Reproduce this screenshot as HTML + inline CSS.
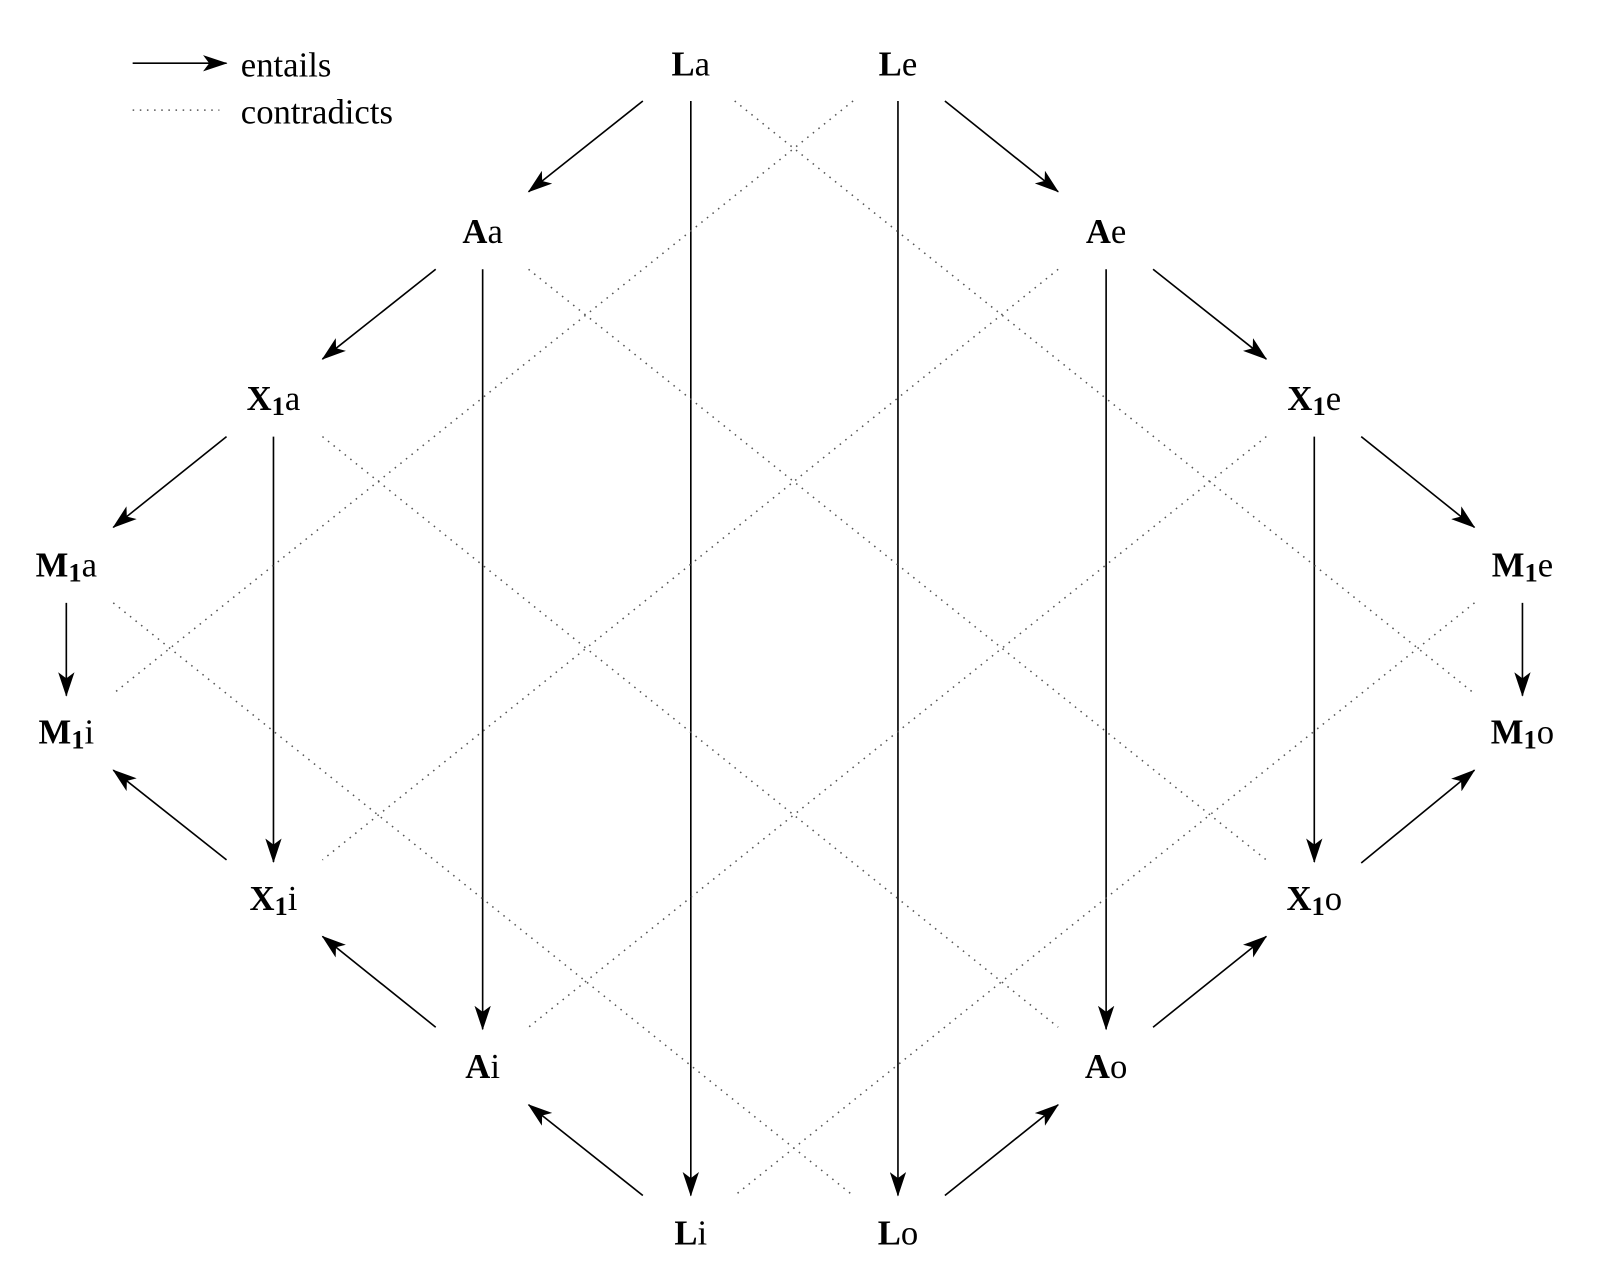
<!DOCTYPE html>
<html><head><meta charset="utf-8">
<style>
html,body{margin:0;padding:0;background:#fff;}
svg{display:block;}
svg text{font-family:"Liberation Serif","Times New Roman",Times,"DejaVu Serif",serif;font-size:34px;fill:#000;}
</style></head>
<body>
<svg width="1600" height="1271" viewBox="0 0 1568 1246" preserveAspectRatio="none" xmlns="http://www.w3.org/2000/svg">
<defs>
<marker id="ah" viewBox="0 0 24 16" refX="23" refY="8" markerWidth="24" markerHeight="16" markerUnits="userSpaceOnUse" orient="auto">
<path d="M0,0 L24,8 L0,16 L6,8 Z" fill="#000"/>
</marker>
</defs>
<g stroke="#000" stroke-width="1.6" fill="none" marker-end="url(#ah)">
<line x1="130" y1="62" x2="222" y2="62"/>
<line x1="630" y1="99" x2="518" y2="188"/>
<line x1="427" y1="264" x2="316" y2="352"/>
<line x1="222" y1="428" x2="111" y2="517"/>
<line x1="65" y1="591" x2="65" y2="682"/>
<line x1="222" y1="843" x2="111" y2="755"/>
<line x1="427" y1="1007" x2="316" y2="918"/>
<line x1="630" y1="1172" x2="518" y2="1083"/>
<line x1="677" y1="99" x2="677" y2="1172"/>
<line x1="473" y1="264" x2="473" y2="1009"/>
<line x1="268" y1="428" x2="268" y2="845"/>
<line x1="926" y1="99" x2="1037" y2="188"/>
<line x1="1130" y1="264" x2="1241" y2="352"/>
<line x1="1334" y1="428" x2="1445" y2="517"/>
<line x1="1492" y1="591" x2="1492" y2="682"/>
<line x1="1334" y1="846" x2="1445" y2="755"/>
<line x1="1130" y1="1007" x2="1241" y2="918"/>
<line x1="926" y1="1172" x2="1037" y2="1083"/>
<line x1="880" y1="99" x2="880" y2="1172"/>
<line x1="1084" y1="264" x2="1084" y2="1009"/>
<line x1="1288" y1="428" x2="1288" y2="845"/>
</g>
<g stroke="#555" stroke-width="1.5" fill="none" stroke-dasharray="1.5 5.5">
<line x1="130" y1="108" x2="215" y2="108"/>
<line x1="720" y1="99" x2="1445" y2="680"/>
<line x1="836" y1="99" x2="111" y2="680"/>
<line x1="518" y1="264" x2="1241" y2="843"/>
<line x1="1037" y1="264" x2="316" y2="843"/>
<line x1="316" y1="428" x2="1037" y2="1007"/>
<line x1="1241" y1="428" x2="518" y2="1007"/>
<line x1="111" y1="591" x2="836" y2="1172"/>
<line x1="1445" y1="591" x2="720" y2="1172"/>
</g>
<text x="236" y="75">entails</text>
<text x="236" y="121">contradicts</text>
<g text-anchor="middle">
<text x="677" y="74"><tspan font-weight="bold">L</tspan>a</text>
<text x="880" y="74"><tspan font-weight="bold">L</tspan>e</text>
<text x="473" y="238"><tspan font-weight="bold">A</tspan>a</text>
<text x="1084" y="238"><tspan font-weight="bold">A</tspan>e</text>
<text x="268" y="402"><tspan font-weight="bold">X</tspan><tspan font-weight="bold" font-size="26" dy="5">1</tspan><tspan dy="-5">a</tspan></text>
<text x="1288" y="402"><tspan font-weight="bold">X</tspan><tspan font-weight="bold" font-size="26" dy="5">1</tspan><tspan dy="-5">e</tspan></text>
<text x="65" y="565"><tspan font-weight="bold">M</tspan><tspan font-weight="bold" font-size="26" dy="5">1</tspan><tspan dy="-5">a</tspan></text>
<text x="1492" y="565"><tspan font-weight="bold">M</tspan><tspan font-weight="bold" font-size="26" dy="5">1</tspan><tspan dy="-5">e</tspan></text>
<text x="65" y="729"><tspan font-weight="bold">M</tspan><tspan font-weight="bold" font-size="26" dy="5">1</tspan><tspan dy="-5">i</tspan></text>
<text x="1492" y="729"><tspan font-weight="bold">M</tspan><tspan font-weight="bold" font-size="26" dy="5">1</tspan><tspan dy="-5">o</tspan></text>
<text x="268" y="892"><tspan font-weight="bold">X</tspan><tspan font-weight="bold" font-size="26" dy="5">1</tspan><tspan dy="-5">i</tspan></text>
<text x="1288" y="892"><tspan font-weight="bold">X</tspan><tspan font-weight="bold" font-size="26" dy="5">1</tspan><tspan dy="-5">o</tspan></text>
<text x="473" y="1057"><tspan font-weight="bold">A</tspan>i</text>
<text x="1084" y="1057"><tspan font-weight="bold">A</tspan>o</text>
<text x="677" y="1220"><tspan font-weight="bold">L</tspan>i</text>
<text x="880" y="1220"><tspan font-weight="bold">L</tspan>o</text>
</g>
</svg>
</body></html>
